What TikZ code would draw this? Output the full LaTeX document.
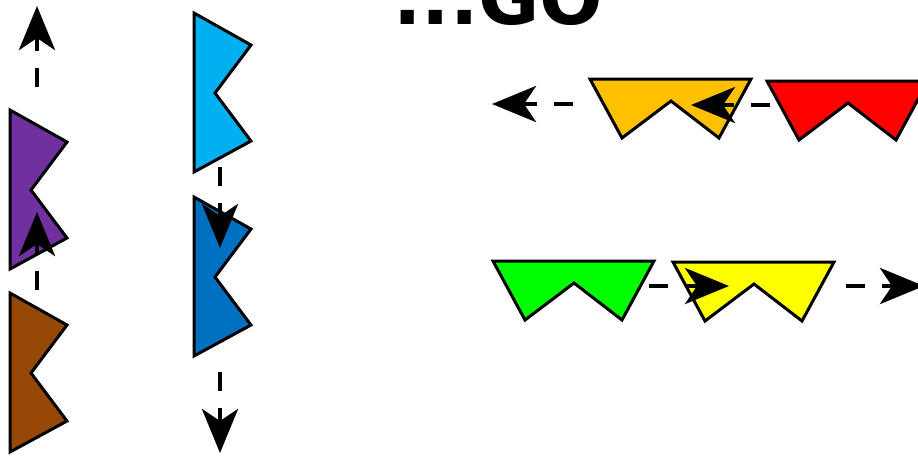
\documentclass[tikz,border=0pt]{standalone}
\usepackage{fontspec}
\newfontfamily\gofont{DejaVu Sans}
\usetikzlibrary{arrows.meta}
\definecolor{flagPurple}{HTML}{7030A0}
\definecolor{flagBrown}{HTML}{974706}
\definecolor{flagCyan}{HTML}{00B0F0}
\definecolor{flagBlue}{HTML}{0070C0}
\definecolor{flagOrange}{HTML}{FFC000}
\definecolor{flagRed}{HTML}{FF0000}
\definecolor{flagGreen}{HTML}{00FF00}
\definecolor{flagYellow}{HTML}{FFFF00}
\tikzset{
    move/.style={line width=3.6pt, dash pattern=on 14.25pt off 12.75pt,
        -{Stealth[length=33pt, width=27pt, inset=9pt]}}
}
\begin{document}
\begin{tikzpicture}[
    x=0.75pt, y=-0.75pt,
    flag/.style={draw=black, line width=2.25pt}
]
\useasboundingbox (0,0) rectangle (918,455);
\clip (0,0) rectangle (918,455);
\node[anchor=base west, inner sep=0, font=\gofont\bfseries\fontsize{56}{60}\selectfont] (title) at (393,24) {...GO};
\foreach \c/\x/\y in {flagPurple/10/110, flagBrown/10/293, flagCyan/194/13, flagBlue/194/197}
  \draw[flag, fill=\c] (\x,\y) -- +(57,32) -- +(21,80) -- +(57,128) -- +(0,159) -- cycle;
\foreach \c/\x/\y in {flagOrange/590/79, flagRed/767/81, flagGreen/493/261, flagYellow/673/262}
  \draw[flag, fill=\c] (\x,\y) -- +(161,0) -- +(129,59) -- +(81,22) -- +(32,59) -- cycle;
\coordinate (purpleFrom) at (37,87);
\coordinate (purpleTo) at (37,6);
\coordinate (brownFrom) at (37,290);
\coordinate (brownTo) at (37,212);
\coordinate (cyanFrom) at (220,167);
\coordinate (cyanTo) at (220,248);
\coordinate (blueFrom) at (220,372);
\coordinate (blueTo) at (220,453);
\coordinate (redFrom) at (770,105);
\coordinate (redTo) at (691,105);
\coordinate (orangeFrom) at (573,104);
\coordinate (orangeTo) at (492,104);
\coordinate (greenFrom) at (649,286);
\coordinate (greenTo) at (729,286);
\coordinate (yellowFrom) at (846,286);
\coordinate (yellowTo) at (924,286);
\draw[move] (purpleFrom) -- (purpleTo);
\draw[move] (brownFrom) -- (brownTo);
\draw[move] (cyanFrom) -- (cyanTo);
\draw[move] (blueFrom) -- (blueTo);
\draw[move] (redFrom) -- (redTo);
\draw[move] (orangeFrom) -- (orangeTo);
\draw[move] (greenFrom) -- (greenTo);
\draw[move] (yellowFrom) -- (yellowTo);
\end{tikzpicture}
\end{document}
